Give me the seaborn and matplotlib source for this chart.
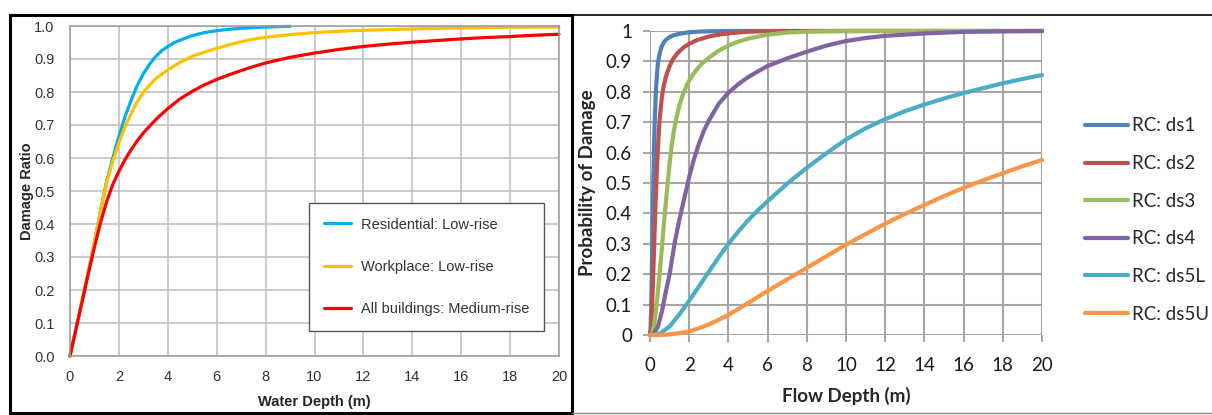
import matplotlib
matplotlib.use("Agg")
import matplotlib.pyplot as plt
import seaborn as sns
from matplotlib.lines import Line2D
from matplotlib.patches import Rectangle

# ---------------- Left panel data (Damage Ratio vs Water Depth) ----------------
res_x = [0, 0.25, 0.5, 0.75, 1.0, 1.25, 1.5, 1.75, 2.0, 2.25, 2.5, 2.75, 3.0, 3.25, 3.5,
         3.75, 4.0, 4.25, 4.5, 5, 5.5, 6, 6.5, 7, 7.5, 8, 8.5, 9]
res_y = [0, 0.085, 0.17, 0.255, 0.345, 0.44, 0.53, 0.60, 0.665, 0.725, 0.775, 0.82, 0.855,
         0.884, 0.907, 0.925, 0.938, 0.949, 0.957, 0.971, 0.98, 0.986, 0.99, 0.993, 0.995,
         0.997, 0.998, 0.999]

work_x = [0, 0.25, 0.5, 0.75, 1.0, 1.25, 1.5, 1.75, 2.0, 2.25, 2.5, 2.75, 3.0, 3.5, 4.0, 4.5,
          5, 5.5, 6, 6.5, 7, 7.5, 8, 9, 10, 11, 12, 13, 14, 15, 16, 17, 18, 19, 20]
work_y = [0, 0.085, 0.17, 0.255, 0.345, 0.44, 0.525, 0.59, 0.645, 0.695, 0.735, 0.77, 0.80,
          0.84, 0.867, 0.89, 0.908, 0.921, 0.932, 0.943, 0.952, 0.96, 0.966, 0.974, 0.98,
          0.984, 0.987, 0.989, 0.991, 0.993, 0.994, 0.995, 0.996, 0.9965, 0.997]

all_x = [0, 0.25, 0.5, 0.75, 1.0, 1.25, 1.5, 1.75, 2.0, 2.25, 2.5, 2.75, 3.0, 3.5, 4, 4.5,
         5, 5.5, 6, 6.5, 7, 7.5, 8, 9, 10, 11, 12, 13, 14, 15, 16, 17, 18, 19, 20]
all_y = [0, 0.083, 0.166, 0.25, 0.33, 0.405, 0.468, 0.52, 0.56, 0.595, 0.625, 0.652, 0.676,
         0.716, 0.75, 0.779, 0.802, 0.822, 0.838, 0.852, 0.865, 0.877, 0.888, 0.905, 0.918,
         0.929, 0.938, 0.945, 0.951, 0.956, 0.961, 0.965, 0.968, 0.972, 0.975]

left_labels = ["Residential: Low-rise", "Workplace: Low-rise", "All buildings: Medium-rise"]
left_colors = ["#00B0F0", "#FFC000", "#FF0000"]
left_xticks = list(range(0, 21, 2))
left_yticks = [i / 10 for i in range(11)]

# ---------------- Right panel data (Probability of Damage vs Flow Depth) ----------------
ds1_x = [0, 0.03, 0.06, 0.09, 0.12, 0.15, 0.18, 0.21, 0.25, 0.3, 0.35, 0.4, 0.45, 0.5, 0.6,
         0.7, 0.8, 1.0, 1.2, 1.5, 2.0, 2.5, 3.0, 4, 20]
ds1_y = [0, 0.02, 0.09, 0.2, 0.32, 0.44, 0.54, 0.63, 0.72, 0.8, 0.855, 0.89, 0.912, 0.928,
         0.95, 0.962, 0.97, 0.98, 0.986, 0.991, 0.996, 0.998, 0.999, 1.0, 1.0]

ds2_x = [0, 0.05, 0.1, 0.15, 0.2, 0.25, 0.3, 0.35, 0.4, 0.45, 0.5, 0.6, 0.7, 0.8, 0.9, 1.0,
         1.2, 1.4, 1.7, 2.0, 2.4, 3.0, 3.6, 4.3, 5.1, 6.5, 20]
ds2_y = [0, 0.02, 0.08, 0.17, 0.27, 0.37, 0.46, 0.54, 0.61, 0.67, 0.715, 0.78, 0.82, 0.847,
         0.867, 0.885, 0.91, 0.927, 0.945, 0.958, 0.97, 0.982, 0.989, 0.994, 0.998, 1.0, 1.0]

ds3_x = [0, 0.1, 0.2, 0.3, 0.4, 0.5, 0.6, 0.7, 0.8, 0.9, 1.0, 1.1, 1.2, 1.35, 1.5, 1.7, 1.9,
         2.2, 2.6, 3.0, 3.5, 4.0, 4.5, 5, 6, 7, 8, 9, 10, 20]
ds3_y = [0, 0.005, 0.03, 0.075, 0.14, 0.21, 0.28, 0.36, 0.43, 0.50, 0.565, 0.62, 0.665,
         0.715, 0.755, 0.795, 0.825, 0.858, 0.89, 0.912, 0.935, 0.952, 0.965, 0.975, 0.988,
         0.995, 0.998, 0.999, 1.0, 1.0]

ds4_x = [0, 0.2, 0.4, 0.6, 0.8, 1.0, 1.25, 1.5, 1.75, 2.0, 2.25, 2.5, 2.75, 3.0, 3.5, 4.0,
         4.5, 5, 5.5, 6, 7, 8, 9, 10, 11, 12, 14, 16, 18, 20]
ds4_y = [0, 0.005, 0.027, 0.075, 0.14, 0.20, 0.30, 0.38, 0.45, 0.52, 0.58, 0.63, 0.672,
         0.705, 0.76, 0.797, 0.825, 0.848, 0.867, 0.885, 0.91, 0.932, 0.952, 0.967, 0.977,
         0.984, 0.992, 0.997, 0.999, 1.0]

ds5l_x = [0, 0.5, 1, 1.5, 2, 2.5, 3, 3.5, 4, 4.5, 5, 5.5, 6, 7, 8, 9, 10, 11, 12, 13, 14,
          15, 16, 17, 18, 19, 20]
ds5l_y = [0, 0.005, 0.028, 0.068, 0.113, 0.16, 0.208, 0.255, 0.30, 0.34, 0.377, 0.41, 0.44,
          0.498, 0.55, 0.598, 0.643, 0.68, 0.71, 0.736, 0.758, 0.778, 0.796, 0.812, 0.828,
          0.842, 0.855]

ds5u_x = [0, 0.5, 1, 1.5, 2, 2.5, 3, 3.5, 4, 5, 6, 7, 8, 9, 10, 11, 12, 13, 14, 15, 16, 17,
          18, 19, 20]
ds5u_y = [0, 0.0, 0.002, 0.006, 0.012, 0.022, 0.035, 0.05, 0.066, 0.105, 0.145, 0.183, 0.221,
          0.259, 0.297, 0.332, 0.366, 0.398, 0.428, 0.457, 0.484, 0.509, 0.532, 0.555, 0.576]

right_labels = ["RC: ds1", "RC: ds2", "RC: ds3", "RC: ds4", "RC: ds5L", "RC: ds5U"]
right_colors = ["#4F81BD", "#C0504D", "#9BBB59", "#8064A2", "#4BACC6", "#F79646"]
right_xticks = list(range(0, 21, 2))
right_yticks = [i / 10 for i in range(11)]
right_yticklabels = ["0", "0.1", "0.2", "0.3", "0.4", "0.5", "0.6", "0.7", "0.8", "0.9", "1"]

sns.set_style("white")
W, H = 1212, 415
fig = plt.figure(figsize=(W / 100, H / 100), dpi=100)

# ---------------- Left axes ----------------
axL = fig.add_axes([70 / W, (H - 356) / H, 489 / W, 330 / H])
left_series = [(res_x, res_y), (work_x, work_y), (all_x, all_y)]
for (xs, ys), lab, col in zip(left_series, left_labels, left_colors):
    sns.lineplot(x=xs, y=ys, ax=axL, color=col, lw=2.3, label=lab,
                 estimator=None, sort=False, clip_on=False)
axL.set_xlim(0, 20)
axL.set_ylim(0, 1.0)
axL.set_xticks(left_xticks)
axL.set_yticks(left_yticks)
axL.set_yticklabels([f"{v:.1f}" for v in left_yticks])
axL.grid(True, color="#BDBDBD", lw=1.1)
axL.set_axisbelow(True)
for s in axL.spines.values():
    s.set_color("#9A9A9A")
    s.set_linewidth(1.1)
lf = dict(family="Liberation Sans")
axL.tick_params(axis="both", length=0, labelsize=10.5, colors="#333333")
axL.tick_params(axis="y", pad=11)
axL.tick_params(axis="x", pad=10)
for t in axL.get_xticklabels() + axL.get_yticklabels():
    t.set_fontfamily("Liberation Sans")
axL.set_xlabel("Water Depth (m)", fontsize=10.5, fontweight="bold", labelpad=8, **lf)
axL.set_ylabel("Damage Ratio", fontsize=10.5, fontweight="bold", labelpad=0.5, **lf)
legL = axL.legend(loc="upper left", bbox_to_anchor=(309 / W, (H - 203) / H),
                  bbox_transform=fig.transFigure, borderaxespad=0,
                  frameon=True, fancybox=False, shadow=False, edgecolor="#555555",
                  framealpha=1, prop=dict(family="Liberation Sans", size=10.5),
                  handlelength=1.85, handletextpad=0.7, labelspacing=1.95, borderpad=1.0)
legL.get_frame().set_linewidth(1.0)
for t in legL.get_texts():
    t.set_color("#333333")

# ---------------- Right axes ----------------
axR = fig.add_axes([650 / W, (H - 335) / H, 392 / W, 304 / H])
right_series = [(ds1_x, ds1_y), (ds2_x, ds2_y), (ds3_x, ds3_y),
                (ds4_x, ds4_y), (ds5l_x, ds5l_y), (ds5u_x, ds5u_y)]
for (xs, ys), lab, col in zip(right_series, right_labels, right_colors):
    sns.lineplot(x=xs, y=ys, ax=axR, color=col, lw=3.0, label=lab,
                 estimator=None, sort=False, clip_on=False)
axR.set_xlim(0, 20)
axR.set_ylim(0, 1.0)
axR.set_xticks(right_xticks)
axR.set_yticks(right_yticks)
axR.set_yticklabels(right_yticklabels)
axR.grid(True, color="#A6A6A6", lw=1.5)
axR.set_axisbelow(True)
for s in axR.spines.values():
    s.set_visible(False)
axR.tick_params(axis="both", direction="out", length=5, width=1.5, color="#A6A6A6",
                labelsize=13.5, labelcolor="#1a1a1a")
axR.tick_params(axis="y", pad=8, left=True)
axR.tick_params(axis="x", pad=11, bottom=True)
for t in axR.get_xticklabels() + axR.get_yticklabels():
    t.set_fontfamily("Lato")
axR.set_xlabel("Flow Depth (m)", fontsize=13.5, fontweight="bold", labelpad=9, family="Lato")
axR.set_ylabel("Probability of Damage", fontsize=13.5, fontweight="bold", labelpad=7, family="Lato")
legR = axR.legend(loc="center left", bbox_to_anchor=(1085 / W, (H - 220) / H),
                  bbox_transform=fig.transFigure, borderaxespad=0, borderpad=0,
                  frameon=False, prop=dict(family="Lato", size=13.5),
                  handlelength=2.3, handletextpad=0.2, labelspacing=1.1)
for line in legR.get_lines():
    line.set_linewidth(3.0)

# ---------------- Panel frames ----------------
fig.add_artist(Rectangle((10 / W, (H - 413) / H), (572 - 10) / W, (413 - 15) / H,
                         transform=fig.transFigure, fill=False, ec="black", lw=2.2))
fig.add_artist(Line2D([572 / W, 1], [(H - 15) / H] * 2, transform=fig.transFigure,
                      color="black", lw=1.2))
fig.add_artist(Line2D([572 / W, 1], [(H - 413) / H] * 2, transform=fig.transFigure,
                      color="#8C8C8C", lw=1.0))

fig.savefig("out.png", dpi=100)
